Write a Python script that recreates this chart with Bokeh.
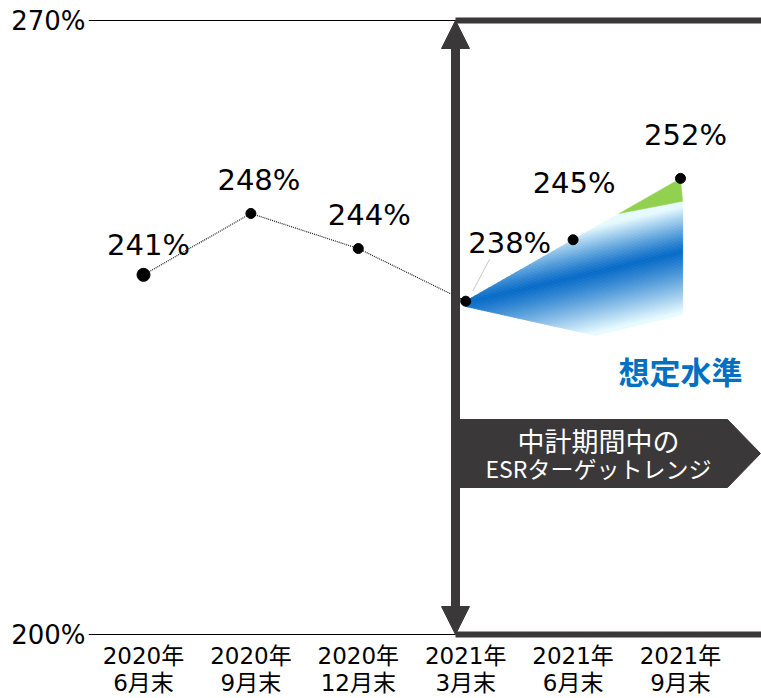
import numpy as np
from bokeh.plotting import figure
from bokeh.models import FixedTicker, Arrow, NormalHead, Range1d, ColumnDataSource
from bokeh.embed import file_html
from bokeh.resources import INLINE
from bokeh.core.properties import value

# ---------------- data ----------------
categories = ["2020年\n6月末", "2020年\n9月末", "2020年\n12月末",
              "2021年\n3月末", "2021年\n6月末", "2021年\n9月末"]
esr = [241, 248, 244, 238, 245, 252]
esr_labels = ["241%", "248%", "244%", "238%", "245%", "252%"]
y_ticks = [200, 270]
y_tick_labels = ["200%", "270%"]

# assumed-level (想定水準) fan, x in category-index units, y in %
fan_x = [3.0, 4.43, 5.02, 5.02, 4.21, 3.0]
fan_y = [238.0, 248.0, 249.4, 236.5, 234.1, 237.4]
fan_center_x = [3.0, 5.02]
fan_center_y = [237.9, 243.7]
# upside part (green)
up_x = [4.43, 5.0, 5.02]
up_y = [248.0, 252.0, 249.4]

box_text = ["中計期間中の", "ESRターゲットレンジ"]
fan_title = "想定水準"

# ---------------- layout ----------------
LEFT = 88
FRAME_W = 761 - LEFT
FRAME_H = 640
PPX = 107.4                      # px per category
PPY = 614.0 / 70.0               # px per %
X0 = -(143 - LEFT) / PPX
X1 = X0 + FRAME_W / PPX
Y1 = 270 + 20 / PPY
Y0 = Y1 - FRAME_H / PPY


def sx(px):
    return X0 + (px - LEFT) / PPX


def sy(py):
    return Y1 - py / PPY


DARK = "#3a3838"
LATIN = "DejaVu Sans, Noto Sans CJK JP"
CJK = "Noto Sans CJK JP"

p = figure(frame_width=FRAME_W, frame_height=FRAME_H,
           x_range=Range1d(X0, X1), y_range=Range1d(Y0, Y1),
           output_backend="svg", toolbar_location=None,
           min_border_left=LEFT, min_border_right=0,
           min_border_top=0, min_border_bottom=0)
p.outline_line_color = None
p.background_fill_color = "white"
p.border_fill_color = "white"

# grid lines at 200% / 270%
p.xgrid.visible = False
p.ygrid.ticker = FixedTicker(ticks=y_ticks)
p.ygrid.grid_line_color = "#000000"
p.ygrid.grid_line_width = 1

# axes
p.yaxis.ticker = FixedTicker(ticks=y_ticks)
p.yaxis.major_label_overrides = {t: l for t, l in zip(y_ticks, y_tick_labels)}
p.yaxis.axis_line_color = None
p.yaxis.major_tick_line_color = None
p.yaxis.minor_tick_line_color = None
p.yaxis.major_tick_out = 0
p.yaxis.major_tick_in = 0
p.yaxis.minor_tick_out = 0
p.yaxis.major_label_text_font = LATIN
p.yaxis.major_label_text_font_size = "26px"
p.yaxis.major_label_text_color = "#000000"
p.yaxis.major_label_standoff = 3

xt = list(range(len(categories)))
p.xaxis.ticker = FixedTicker(ticks=xt)
p.xaxis.major_label_overrides = {i: c for i, c in zip(xt, categories)}
p.xaxis.axis_line_color = None
p.xaxis.major_tick_line_color = None
p.xaxis.minor_tick_line_color = None
p.xaxis.major_tick_out = 0
p.xaxis.major_tick_in = 0
p.xaxis.minor_tick_out = 0
p.xaxis.major_label_text_font = LATIN
p.xaxis.major_label_text_font_size = "23px"
p.xaxis.major_label_text_color = "#000000"
p.xaxis.major_label_text_line_height = 1.05
p.xaxis.major_label_standoff = 2

# ---------------- gradient fan ----------------
b = (fan_center_y[1] - fan_center_y[0]) / (fan_center_x[1] - fan_center_x[0])
a = fan_center_y[0] - b * fan_center_x[0]
UP = 45 / PPY
LOW = 60 / PPY
dark = np.array([8, 108, 200])
light = np.array([230, 250, 255])


def clip(poly, f):
    out = []
    n = len(poly)
    for i in range(n):
        P, Q = poly[i], poly[(i + 1) % n]
        fp, fq = f(P), f(Q)
        if fp >= 0:
            out.append(P)
        if (fp >= 0) != (fq >= 0):
            t = fp / (fp - fq)
            out.append((P[0] + t * (Q[0] - P[0]), P[1] + t * (Q[1] - P[1])))
    return out


poly = list(zip(fan_x, fan_y))
edges = [-1000.0] + list(np.linspace(-LOW, UP, 70)) + [1000.0]
bxs, bys, bcols = [], [], []
for e0, e1 in zip(edges[:-1], edges[1:]):
    pc = clip(poly, lambda P, e0=e0: P[1] - (a + b * P[0]) - e0)
    pc = clip(pc, lambda P, e1=e1: (a + b * P[0]) + e1 - P[1])
    if len(pc) < 3:
        continue
    mid = max(min((e0 + e1) / 2, UP), -LOW)
    u = mid / UP if mid > 0 else -mid / LOW
    w = min(1.0, u) ** 1.15
    c = (dark * (1 - w) + light * w).astype(int)
    bxs.append([q[0] for q in pc])
    bys.append([q[1] for q in pc])
    bcols.append("#%02x%02x%02x" % tuple(c))
p.patches(bxs, bys, fill_color=bcols, line_color=bcols, line_width=0.8)
p.patch(up_x, up_y, fill_color="#92d050", line_color="#92d050", line_width=0.5)

# ---------------- series ----------------
p.line(xt[:4], esr[:4], line_color="#1a1a1a", line_width=1.2, line_dash="1 1")
sizes = [13, 10, 10, 10, 10, 10]
p.scatter(xt, esr, size=sizes, fill_color="black", line_color="black")

# leader line for 238%
p.segment(x0=[xt[3] + 7 / PPX], y0=[esr[3] + 10 / PPY],
          x1=[xt[3] + 24 / PPX], y1=[esr[3] + 42 / PPY],
          line_color="#c8c8c8", line_width=1)

lab = ColumnDataSource(dict(x=xt, y=esr, t=esr_labels,
                            dx=[5, 8, 11, 44, 1, 5],
                            dy=[-30, -33, -34, -58, -57, -43]))
p.text(x="x", y="y", text="t", x_offset="dx", y_offset="dy", source=lab,
       text_font=value(LATIN), text_font_size="29px", text_color="#000000",
       text_align="center", text_baseline="alphabetic")

# ---------------- annotations ----------------
ax = sx(455)
p.segment(x0=[ax, ax], y0=y_ticks, x1=[X1, X1], y1=y_ticks,
          line_color=DARK, line_width=6)

p.patch([sx(455), sx(727), sx(760), sx(727), sx(455)],
        [sy(419), sy(419), sy(453), sy(487), sy(487)],
        fill_color=DARK, line_color=DARK)
p.text(x=[sx(598)], y=[sy(440)], text=[box_text[0]],
       text_font=value(CJK), text_font_size="27px", text_color="white",
       text_align="center", text_baseline="middle")
p.text(x=[sx(598)], y=[sy(467)], text=[box_text[1]],
       text_font=value(CJK), text_font_size="23px", text_color="white",
       text_align="center", text_baseline="middle")

p.text(x=[sx(680)], y=[sy(370)], text=[fan_title],
       text_font=value(CJK), text_font_size="31px", text_font_style="bold",
       text_color="#0070c0", text_align="center", text_baseline="middle")

head_s = NormalHead(size=28, fill_color=DARK, line_color=DARK, line_width=1)
head_e = NormalHead(size=28, fill_color=DARK, line_color=DARK, line_width=1)
p.add_layout(Arrow(start=head_s, end=head_e, x_start=ax, y_start=200,
                   x_end=ax, y_end=270, line_color=DARK, line_width=9))

open("out.html", "w").write(file_html(p, INLINE))
